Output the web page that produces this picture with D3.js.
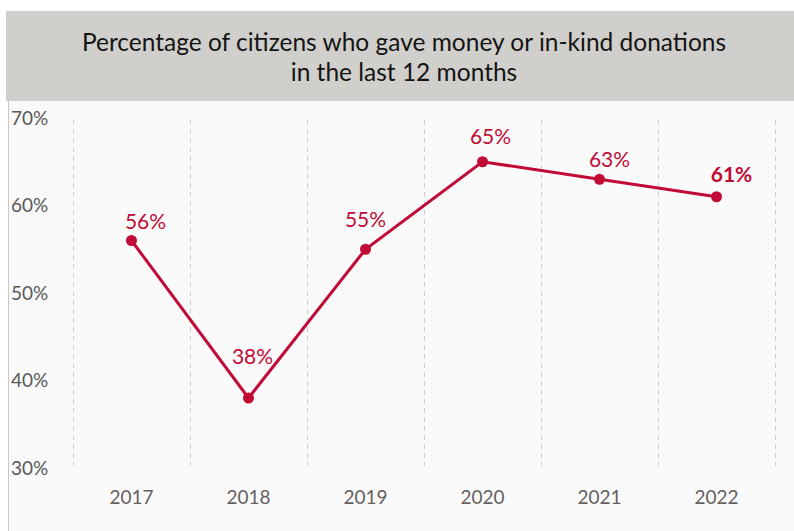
<!DOCTYPE html>
<html>
<head>
<meta charset="utf-8">
<script src="https://cdn.jsdelivr.net/npm/d3@7"></script>
<style>
  html, body { margin: 0; padding: 0; background: #ffffff; }
  svg { display: block; }
</style>
</head>
<body>
<svg id="chart" width="794" height="531"></svg>
<script>
// Share of citizens who donated money or goods, by survey year
const years = ["2017", "2018", "2019", "2020", "2021", "2022"];
const shares = [56, 38, 55, 65, 63, 61];
const yTicks = [30, 40, 50, 60, 70];
const titleLines = ["Percentage of citizens who gave money or in-kind donations", "in the last 12 months"];

const W = 794, H = 531;
const svg = d3.select("#chart");
const font = "Lato, 'Open Sans', sans-serif";
const red = "#c10a36";

// Header band
svg.append("rect").attr("x", 6).attr("y", 11).attr("width", W - 6).attr("height", 90).attr("fill", "#d0cfcb");
svg.selectAll("text.title").data(titleLines).join("text")
  .attr("class", "title")
  .attr("x", 404).attr("y", (d, i) => 51 + i * 30)
  .attr("text-anchor", "middle")
  .attr("font-family", font).attr("font-size", 24.5).attr("fill", "#141414")
  .text(d => d);

// Plot panel
svg.append("rect").attr("x", 8).attr("y", 101).attr("width", W - 8).attr("height", H - 101).attr("fill", "#fafafa");
svg.append("line").attr("x1", 8.5).attr("x2", 8.5).attr("y1", 101).attr("y2", H).attr("stroke", "#c8c8c8").attr("stroke-width", 1);

const x = d3.scaleBand().domain(years).range([73, 775]);
const y = d3.scaleLinear().domain([30, 70]).range([468, 118]);

// Dashed vertical separators between categories
const seps = years.map(d => x(d)).concat([x.range()[1]]);
svg.selectAll("line.sep").data(seps).join("line")
  .attr("class", "sep")
  .attr("x1", d => Math.round(d) + 0.5).attr("x2", d => Math.round(d) + 0.5)
  .attr("y1", 120).attr("y2", 466)
  .attr("stroke", "#cfcfcf").attr("stroke-width", 1).attr("stroke-dasharray", "5,4");

// Y axis labels
const yAxis = d3.axisLeft(y).tickValues(yTicks).tickFormat(d => d + "%").tickSize(0);
const yg = svg.append("g").attr("transform", "translate(11,0)").call(yAxis);
yg.select(".domain").remove();
yg.selectAll("text").attr("text-anchor", "start").attr("x", 0).attr("dy", "0.32em")
  .attr("font-family", font).attr("font-size", 19).attr("fill", "#595959");

// X axis labels
const xAxis = d3.axisBottom(x).tickSize(0);
const xg = svg.append("g").attr("transform", "translate(0,487)").call(xAxis);
xg.select(".domain").remove();
xg.selectAll("text").attr("dy", "0.71em")
  .attr("font-family", font).attr("font-size", 19).attr("fill", "#666060");

const cx = d => x(d) + x.bandwidth() / 2;
const pts = years.map((d, i) => ({ year: d, v: shares[i] }));

svg.append("path").datum(pts)
  .attr("fill", "none").attr("stroke", red).attr("stroke-width", 3)
  .attr("d", d3.line().x(d => cx(d.year)).y(d => y(d.v)));

svg.selectAll("circle.pt").data(pts).join("circle")
  .attr("class", "pt")
  .attr("cx", d => cx(d.year)).attr("cy", d => y(d.v)).attr("r", 5.5)
  .attr("fill", red);

// Value labels, nudged so they clear the line segments
const labelNudge = [[14, -12], [4, -34], [0, -22], [8, -18], [10, -12], [15, -15]];
svg.selectAll("text.val").data(pts).join("text")
  .attr("class", "val")
  .attr("x", (d, i) => cx(d.year) + labelNudge[i][0])
  .attr("y", (d, i) => y(d.v) + labelNudge[i][1])
  .attr("text-anchor", "middle")
  .attr("font-family", font).attr("font-size", 21)
  .attr("font-weight", (d, i) => i === pts.length - 1 ? "bold" : "normal")
  .attr("fill", red)
  .text(d => d.v + "%");
</script>
</body>
</html>
